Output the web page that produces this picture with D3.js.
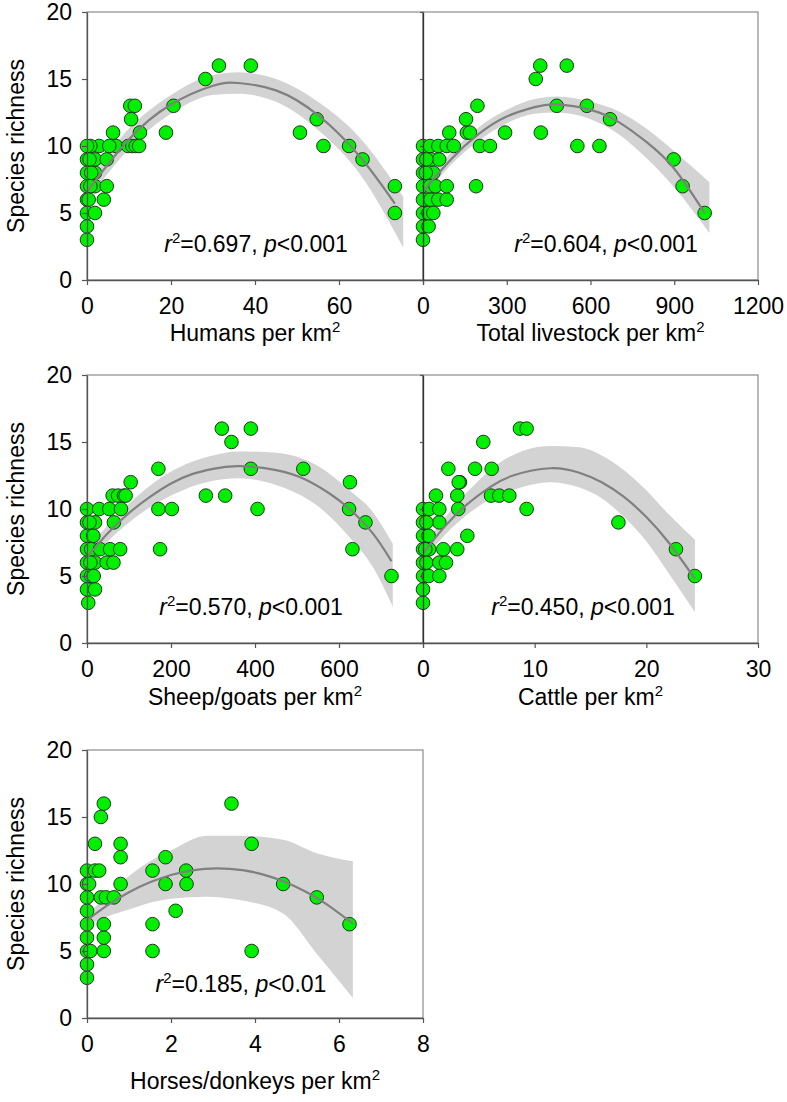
<!DOCTYPE html>
<html><head><meta charset="utf-8">
<script src="https://cdn.jsdelivr.net/npm/d3@7"></script>
<style>body{margin:0;background:#fff}svg text{font-family:Arial,"Liberation Sans",sans-serif;fill:#000}</style>
</head><body><svg id="c" width="787" height="1102"></svg>
<script>
// ---------- data ----------
const yTickVals=[0,5,10,15,20];
const xTitles=["Humans per km","Total livestock per km","Sheep/goats per km","Cattle per km","Horses/donkeys per km"];
const r2Vals=["0.697","0.604","0.570","0.450","0.185"];
const pVals=["0.001","0.001","0.001","0.001","0.01"];
const xDomains=[[0,80],[0,1200],[0,800],[0,30],[0,8]];
const xTickVals=[[0,20,40,60,80],[0,300,600,900,1200],[0,200,400,600,800],[0,10,20,30],[0,2,4,6,8]];
const xTickLabels=[["0","20","40","60",""],["0","300","600","900","1200"],["0","200","400","600",""],["0","10","20","30"],["0","2","4","6","8"]];

// panel 1: humans
const humX=[0,0,0,1.9,0,4.0,0,1.9,4.7,0.8,0,1.9,0,1.9,4.7,0.6,2.9,0.8,6.9,5.3,9.8,10.8,11.6,12.4,6.2,12.6,18.8,10.5,10.3,11.4,20.6,28.2,31.4,39,54.7,50.7,56.3,62.4,65.6,73.3,73.3,0,0.4,1.0];
const humY=[3,4,5,5,6,6,7,7,7,7,8,8,9,9,9,9,10,10,10,10,10,10,10,10,11,11,11,12,13,13,13,15,16,16,12,11,10,10,9,7,5,10,6,8];
const humFitX=[0,10,20,30,36,45,55,65,73.3];
const humFitY=[6.6,10.5,13.1,14.5,14.7,14.15,12.3,9.2,5.7];
const humBandX=[0,10,20,30,36,45,55,65,75.3];
const humBandLo=[5.9,9.8,12.4,13.8,13.9,13.3,11.2,7.9,2.4];
const humBandHi=[7.3,11.3,13.8,15.3,15.5,15.0,13.3,10.6,6.2];

// panel 2: total livestock
const livX=[0,0,20,0,20,37,0,27,55,85,0,25,45,85,190,0,37,0,30,58,0,25,55,85,110,204,240,94,157,168,294,422,154,195,479,587,404,420,515,553,632,670,898,930,1009,10,12];
const livY=[3,4,4,5,5,5,6,6,6,6,7,7,7,7,7,8,8,9,9,9,10,10,10,10,10,10,10,11,11,11,11,11,12,13,13,13,15,16,16,10,10,12,9,7,5,8,9];
const livFitX=[0,100,200,300,400,477,600,700,800,900,1009];
const livFitY=[6.6,9.0,10.9,12.2,12.9,13.1,12.7,11.8,10.3,8.3,5.0];
const livBandX=[0,100,200,300,400,477,600,700,800,900,1026];
const livBandLo=[6.1,8.6,10.4,11.7,12.4,12.5,12.0,10.9,9.1,6.9,3.5];
const livBandHi=[7.1,9.5,11.4,12.7,13.5,13.7,13.3,12.6,11.3,9.6,7.3];

// panel 3: sheep/goats
const shX=[3,0,19,0,10,16,0,19,47,63,0,10,31,55,79,174,0,15,0,19,64,0,29,53,81,170,202,406,61,74,88,92,283,329,104,170,390,515,344,321,390,626,624,663,632,725,6,8];
const shY=[3,4,4,5,5,5,6,6,6,6,7,7,7,7,7,7,8,8,9,9,9,10,10,10,10,10,10,10,11,11,11,11,11,11,12,13,13,13,15,16,16,12,10,9,7,5,9,6];
const shFitX=[0,50,100,150,200,250,300,360,450,520,580,625,680,725];
const shFitY=[6.4,8.2,9.7,10.9,11.9,12.6,13.0,13.2,12.9,12.2,11.1,10.0,8.2,6.1];
const shBandX=[0,50,100,200,300,360,450,550,625,680,728];
const shBandLo=[5.8,7.6,9.0,11.0,12.1,12.3,11.8,10.2,7.9,5.7,2.7];
const shBandHi=[7.0,8.8,10.4,12.8,14.0,14.3,14.2,13.2,11.4,9.8,7.4];

// panel 4: cattle
const catX=[0,0,0,0.5,1.46,0,0.3,1.46,2.06,0,0.55,1.82,3.07,0,0.5,3.97,0,1.46,0,0.55,1.46,3.16,9.28,1.16,3.07,6.09,6.83,7.73,3.31,3.2,2.27,4.66,6.15,5.4,8.68,9.28,17.5,22.65,24.35,0.3,0.2];
const catY=[3,4,5,5,5,6,6,6,6,7,7,7,7,8,8,8,9,9,10,10,10,10,10,11,11,11,11,11,12,12,13,13,13,15,16,16,9,7,5,9,7];
const catFitX=[0,2,4,6,8,11.4,14,16,18,20,22,24.35];
const catFitY=[6.7,8.74,10.38,11.63,12.48,13.04,12.7,12.0,10.9,9.4,7.5,4.8];
const catBandX=[0,2,4,6,8,11.4,14,16,18,20,22,24.35];
const catBandLo=[6.2,8.1,9.6,10.7,11.4,12.0,11.6,10.8,9.4,7.6,5.2,2.3];
const catBandHi=[7.2,9.4,11.3,12.9,14.0,14.7,14.6,14.0,12.9,11.4,9.6,7.7];

// panel 5: horses/donkeys
const hoX=[0,0,0,0.08,0.40,1.56,3.92,0,0.40,0,0.40,1.56,0,2.11,0,0.33,0.45,0.64,0,0.05,0.80,1.87,2.37,0,0.19,0.29,1.56,2.36,0.80,1.87,0.19,0.80,3.92,0.33,0.40,3.44,4.67,5.47,6.25];
const hoY=[3,4,5,5,5,5,5,6,6,7,7,7,8,8,9,9,9,9,10,10,10,10,10,11,11,11,11,11,12,12,13,13,13,15,16,16,10,9,7];
const hoFitX=[0,0.5,1,1.5,2,2.5,3.1,3.7,4.2,4.7,5.2,5.7,6.33];
const hoFitY=[7.3,8.44,9.39,10.13,10.67,11.02,11.17,11.03,10.7,10.17,9.44,8.5,7.05];
const hoBandX=[0,0.5,1,1.5,2,2.85,3.64,4.67,5.47,6.33];
const hoBandLo=[6.9,7.6,8.1,8.6,8.9,9.05,8.8,7.8,4.8,1.5];
const hoBandHi=[7.7,9.2,10.6,11.7,12.5,13.6,13.6,13.3,12.3,11.7];

// ---------- layout ----------
const panels=[
 {left:87,top:12,w:336,h:268,px:humX,py:humY,fx:humFitX,fy:humFitY,bx:humBandX,bl:humBandLo,bh:humBandHi,ylab:true,lab:[256,-28],tOff:61},
 {left:423,top:12,w:335,h:268,px:livX,py:livY,fx:livFitX,fy:livFitY,bx:livBandX,bl:livBandLo,bh:livBandHi,ylab:false,lab:[606,-28],tOff:61},
 {left:87,top:375,w:336,h:268,px:shX,py:shY,fx:shFitX,fy:shFitY,bx:shBandX,bl:shBandLo,bh:shBandHi,ylab:true,lab:[251,-28],tOff:62},
 {left:423,top:375,w:335,h:268,px:catX,py:catY,fx:catFitX,fy:catFitY,bx:catBandX,bl:catBandLo,bh:catBandHi,ylab:false,lab:[583,-28],tOff:62},
 {left:87,top:750,w:336,h:268,px:hoX,py:hoY,fx:hoFitX,fy:hoFitY,bx:hoBandX,bl:hoBandLo,bh:hoBandHi,ylab:true,lab:[241,-26],tOff:71}
];

const svg=d3.select("#c");
const FS=23;
const FF='Arial,"Liberation Sans",sans-serif';

panels.forEach((p,i)=>{
  const x=d3.scaleLinear().domain(xDomains[i]).range([p.left,p.left+p.w]);
  const y=d3.scaleLinear().domain([0,20]).range([p.top+p.h,p.top]);
  const g=svg.append("g");
  g.append("rect").attr("x",p.left).attr("y",p.top).attr("width",p.w).attr("height",p.h)
    .attr("fill","none").attr("stroke","#8c8c8c").attr("stroke-width",1.2);
  const bandData=p.bx.map((v,k)=>({x:v,lo:p.bl[k],hi:p.bh[k]}));
  g.append("path").datum(bandData)
    .attr("d",d3.area().x(d=>x(d.x)).y0(d=>y(d.lo)).y1(d=>y(d.hi)).curve(d3.curveMonotoneX))
    .attr("fill","#d3d3d3");
  g.selectAll("circle.pt").data(p.px.map((v,k)=>[v,p.py[k]])).join("circle")
    .attr("cx",d=>x(d[0])).attr("cy",d=>y(d[1])).attr("r",6.8)
    .attr("fill","#00f000").attr("stroke","#1a3a1a").attr("stroke-width",1);
  const fitData=p.fx.map((v,k)=>[v,p.fy[k]]);
  g.append("path").datum(fitData)
    .attr("d",d3.line().x(d=>x(d[0])).y(d=>y(d[1])).curve(d3.curveNatural))
    .attr("fill","none").attr("stroke","#808080").attr("stroke-width",2.2);
  const xAxis=d3.axisBottom(x).tickValues(xTickVals[i]).tickFormat((d,k)=>xTickLabels[i][k]).tickSize(5).tickSizeOuter(0);
  const ax=g.append("g").attr("transform",`translate(0,${p.top+p.h})`).call(xAxis);
  ax.select(".domain").attr("stroke","#555").attr("stroke-width",1.3);
  ax.selectAll(".tick line").attr("stroke","#555").attr("stroke-width",1.2);
  ax.selectAll(".tick text").attr("font-size",FS).attr("y",12).attr("dy","0.95em").attr("fill","#000").style("font-family",FF);
  const yAxis=d3.axisLeft(y).tickValues(yTickVals).tickSize(p.ylab?5:3).tickSizeOuter(0)
    .tickFormat(p.ylab?d3.format("d"):()=>"");
  const ay=g.append("g").attr("transform",`translate(${p.left},0)`).call(yAxis);
  ay.select(".domain").attr("stroke",p.ylab?"#555":"#333").attr("stroke-width",1.3);
  ay.selectAll(".tick line").attr("stroke","#555").attr("stroke-width",1.2);
  ay.selectAll(".tick text").attr("font-size",FS).attr("x",-15).attr("fill","#000").style("font-family",FF);
  const xt=g.append("text").attr("x",p.left+p.w/2).attr("y",p.top+p.h+p.tOff).attr("text-anchor","middle").attr("font-size",FS);
  xt.append("tspan").text(xTitles[i]);
  xt.append("tspan").attr("dy",-9).attr("font-size",15).text("2");
  if(p.ylab){
    g.append("text").attr("transform",`translate(24,${p.top+p.h/2}) rotate(-90)`).attr("text-anchor","middle")
      .attr("font-size",FS).text("Species richness");
  }
  const st=g.append("text").attr("x",p.lab[0]).attr("y",p.top+p.h+p.lab[1]).attr("text-anchor","middle").attr("font-size",FS);
  st.append("tspan").attr("font-style","italic").text("r");
  st.append("tspan").attr("dy",-9).attr("font-size",15).text("2");
  st.append("tspan").attr("dy",9).text("=" + r2Vals[i] + ", ");
  st.append("tspan").attr("font-style","italic").text("p");
  st.append("tspan").text("<" + pVals[i]);
});
</script>
</body></html>
